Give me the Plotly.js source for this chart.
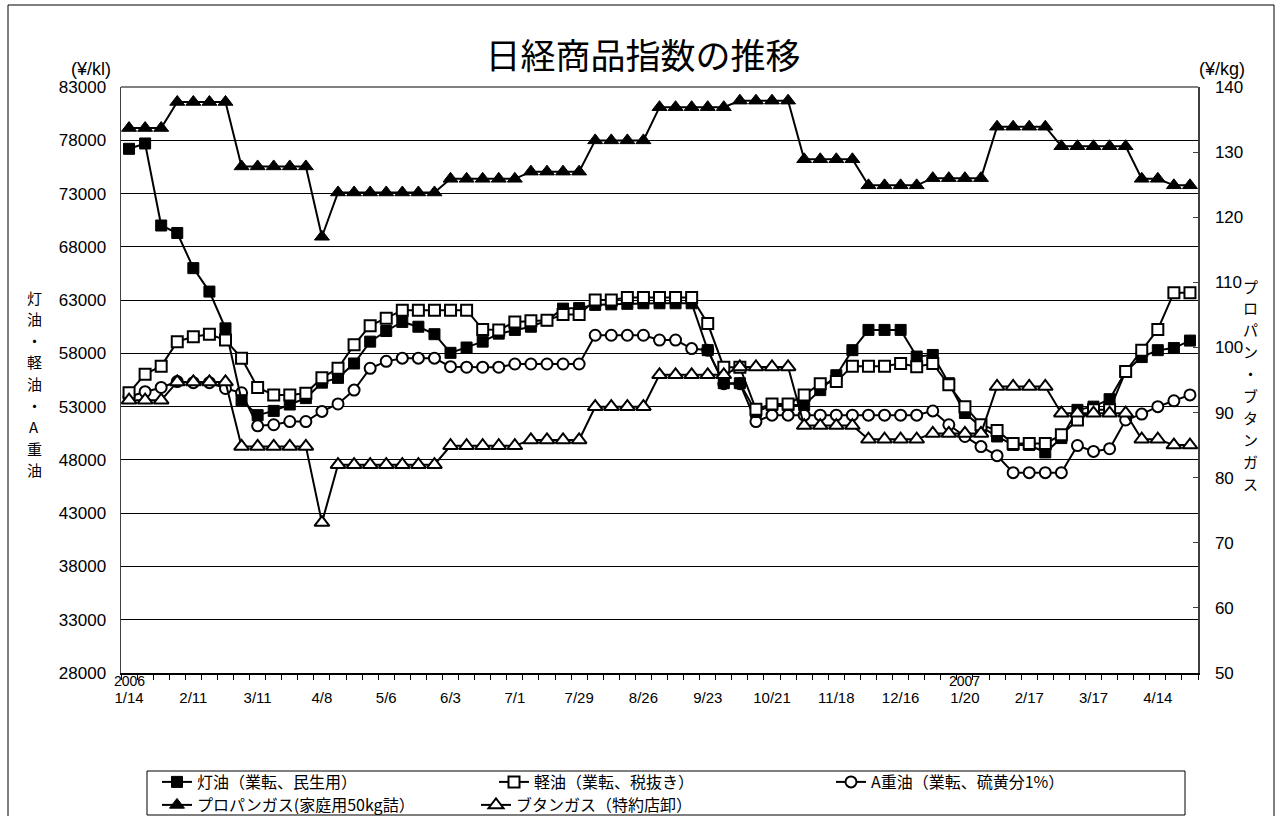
<!DOCTYPE html>
<html>
<head>
<meta charset="utf-8">
<script src="https://cdn.plot.ly/plotly-3.0.1.min.js"></script>
<style>
html,body{margin:0;padding:0;background:#fff;}
#chart{width:1282px;height:816px;}
</style>
</head>
<body>
<div id="chart"></div>
<script>
// weekly observation dates (2006/1/14 - 2007/4/28)
const dates = ['1/14','1/21','1/28','2/4','2/11','2/18','2/25','3/4','3/11','3/18','3/25','4/1','4/8','4/15','4/22','4/29',
  '5/6','5/13','5/20','5/27','6/3','6/10','6/17','6/24','7/1','7/8','7/15','7/22','7/29','8/5','8/12','8/19',
  '8/26','9/2','9/9','9/16','9/23','9/30','10/7','10/14','10/21','10/28','11/4','11/11','11/18','11/25','12/2','12/9',
  '12/16','12/23','1/6','1/13','1/20','1/27','2/3','2/10','2/17','2/24','3/3','3/10','3/17','3/24','3/31','4/7',
  '4/14','4/21','4/28'];

// 灯油（業転、民生用） ¥/kl
const kerosene = [77200,77700,70000,69300,66000,63800,60350,53600,52200,52600,53200,53800,55250,55700,57050,59100,
  60100,60950,60500,59800,58050,58550,59100,59850,60200,60500,61100,62200,62250,62550,62600,62650,
  62700,62700,62700,62700,58300,55200,55200,52500,53150,53150,53150,54550,55950,58300,60200,60200,
  60200,57700,57850,55200,52400,51100,50200,49400,49400,48700,50050,52700,53000,53700,56300,57650,
  58300,58500,59200];

// 軽油（業転、税抜き） ¥/kl
const diesel = [54300,56050,56800,59100,59550,59800,59250,57550,54800,54100,54100,54250,55700,56600,58800,60600,
  61300,62050,62050,62050,62050,62050,60250,60200,60950,61050,61100,61650,61650,63000,63000,63250,
  63250,63250,63250,63250,60800,56700,56700,52750,53250,53250,54100,55150,55350,56800,56800,56800,
  57050,56750,57050,55050,53000,51300,50750,49550,49550,49550,50350,51750,52700,52700,56300,58300,
  60250,63700,63700];

// A重油（業転、硫黄分1%） ¥/kl
const heavyA = [53950,54400,54800,55350,55250,55250,54700,54300,51200,51300,51600,51600,52550,53250,54550,56600,
  57250,57550,57550,57550,56750,56700,56700,56700,57000,57000,57000,57000,57000,59700,59700,59700,
  59700,59250,59250,58450,58300,55150,55150,51600,52200,52200,52200,52200,52200,52200,52200,52200,
  52200,52200,52600,51300,50200,49250,48400,46800,46800,46800,46800,49350,48800,49050,51750,52300,
  53000,53550,54100];

// プロパンガス(家庭用50kg詰) ¥/kg
const propane = [133.7,133.7,133.7,137.7,137.7,137.7,137.7,127.8,127.8,127.8,127.8,127.8,117.0,123.8,123.8,123.8,
  123.8,123.8,123.8,123.8,125.9,125.9,125.9,125.9,125.9,127.0,127.0,127.0,127.0,131.8,131.8,131.8,
  131.8,136.9,136.9,136.9,136.9,136.9,137.9,137.9,137.9,137.9,128.9,128.9,128.9,128.9,124.9,124.9,
  124.9,124.9,126.0,126.0,126.0,126.0,133.9,133.9,133.9,133.9,130.9,130.9,130.9,130.9,130.9,125.9,
  125.9,124.9,124.9];

// ブタンガス（特約店卸） ¥/kg
const butane = [91.9,91.9,91.9,94.7,94.7,94.7,94.7,84.8,84.8,84.8,84.8,84.8,73.1,82.0,82.0,82.0,
  82.0,82.0,82.0,82.0,84.9,84.9,84.9,84.9,84.9,85.8,85.8,85.8,85.8,90.9,90.9,90.9,
  90.9,95.8,95.8,95.8,95.8,95.8,97.0,97.0,97.0,97.0,88.0,88.0,88.0,88.0,85.9,85.9,
  85.9,85.9,86.8,86.8,86.8,86.8,94.0,94.0,94.0,94.0,89.9,89.9,89.9,89.9,89.9,85.9,
  85.9,85.0,85.0];

const seriesNames = ['灯油（業転、民生用）','軽油（業転、税抜き）','A重油（業転、硫黄分1%）','プロパンガス(家庭用50kg詰）','ブタンガス（特約店卸）'];
const leftTitle = '灯油・軽油・A重油';
const rightTitle = 'プロパン・ブタンガス';
const leftTicks = [28000,33000,38000,43000,48000,53000,58000,63000,68000,73000,78000,83000];
const rightTicks = [50,60,70,80,90,100,110,120,130,140];
const yearLabels = [{idx:0, text:'2006'},{idx:52, text:'2007'}];

const idx = dates.map((d,i)=>i);
const tickIdx = idx.filter(i=>i%4===0);
const tickTxt = tickIdx.map(i=>dates[i]);
const boundaries = [];
for (let i=0;i<=dates.length;i++) boundaries.push(i-0.5);

const NFONT = "'Liberation Sans Narrow','Liberation Sans','Noto Sans CJK JP',sans-serif";
const FONT = "'Liberation Sans','Noto Sans CJK JP',sans-serif";
const JFONT = "'Noto Sans CJK JP',sans-serif";

const lineStyle = {color:'#000', width:2};
const traces = [
  {x:idx, y:heavyA, name:seriesNames[2], legend:'legend', legendrank:3, type:'scatter', mode:'lines+markers', yaxis:'y',
   line:lineStyle, marker:{symbol:'circle', size:11, color:'#fff', line:{color:'#000', width:2}}},
  {x:idx, y:kerosene, name:seriesNames[0], legend:'legend', legendrank:1, type:'scatter', mode:'lines+markers', yaxis:'y',
   line:lineStyle, marker:{symbol:'square', size:11, color:'#000', line:{color:'#000', width:1}}},
  {x:idx, y:diesel, name:seriesNames[1], legend:'legend', legendrank:2, type:'scatter', mode:'lines+markers', yaxis:'y',
   line:lineStyle, marker:{symbol:'square', size:11, color:'#fff', line:{color:'#000', width:2}}},
  {x:idx, y:propane, name:seriesNames[3], legend:'legend2', legendrank:4, type:'scatter', mode:'lines+markers', yaxis:'y2',
   line:lineStyle, marker:{symbol:'triangle-up', size:13, color:'#000', line:{color:'#000', width:1}}},
  {x:idx, y:butane, name:seriesNames[4], legend:'legend2', legendrank:5, type:'scatter', mode:'lines+markers', yaxis:'y2',
   line:lineStyle, marker:{symbol:'triangle-up', size:13, color:'#fff', line:{color:'#000', width:2}}}
];

// plot area geometry (px)
const L=121, R=1198, T=87, B=673;
const W=1282, H=816;
const px2x = p => (p-L)/(R-L);
const py2y = p => (B-p)/(B-T);

const annotations = [
  {text:'(¥/kl)', xref:'paper', yref:'paper', x:px2x(91), y:py2y(69), xanchor:'center', yanchor:'middle', showarrow:false, font:{family:FONT, size:18, color:'#000'}},
  {text:'(¥/kg)', xref:'paper', yref:'paper', x:px2x(1222), y:py2y(69), xanchor:'center', yanchor:'middle', showarrow:false, font:{family:FONT, size:18, color:'#000'}},
];
// vertical (stacked) axis titles, one character per line
Array.from(leftTitle).forEach((ch,k)=>annotations.push({text:ch, xref:'paper', yref:'paper', x:px2x(34), y:py2y(297+21.6*k),
  xanchor:'center', yanchor:'middle', showarrow:false, font:{family:JFONT, size:15, color:'#000'}}));
Array.from(rightTitle).forEach((ch,k)=>annotations.push({text:ch, xref:'paper', yref:'paper', x:px2x(1250), y:py2y(286+21.9*k),
  xanchor:'center', yanchor:'middle', showarrow:false, font:{family:JFONT, size:15, color:'#000'}}));
yearLabels.forEach(o=>annotations.push({text:o.text, xref:'x', yref:'paper', x:o.idx, y:py2y(681), xanchor:'center', yanchor:'middle', showarrow:false,
  font:{family:NFONT, size:14, color:'#000'}}));

const shapes = [
  {type:'rect', xref:'paper', yref:'paper', x0:px2x(8), x1:px2x(1274), y0:py2y(830), y1:py2y(5), line:{color:'#000', width:1}, layer:'below'},
  {type:'rect', xref:'paper', yref:'paper', x0:px2x(147), x1:px2x(1185), y0:py2y(815), y1:py2y(771), line:{color:'#000', width:1}, layer:'below'},
  {type:'line', xref:'paper', yref:'paper', x0:0, x1:1, y0:1, y1:1, line:{color:'#808080', width:2}}
];

const legendCommon = {orientation:'h', xref:'container', yref:'container', xanchor:'left', yanchor:'middle',
  borderwidth:0, bgcolor:'rgba(0,0,0,0)', font:{family:JFONT, size:16, color:'#000'}, traceorder:'normal', itemwidth:30};

const layout = {
  width:W, height:H,
  margin:{l:L, r:W-R, t:T, b:H-B, pad:0},
  paper_bgcolor:'#fff', plot_bgcolor:'#fff',
  font:{family:FONT, color:'#000'},
  title:{text:'日経商品指数の推移', font:{family:JFONT, size:35, color:'#000'}, x:643/W, xref:'container', xanchor:'center', y:1-57/H, yref:'container', yanchor:'middle'},
  showlegend:true,
  legend:Object.assign({}, legendCommon, {x:157/W, y:1-782/H, entrywidth:292}),
  legend2:Object.assign({}, legendCommon, {x:157/W, y:1-805/H, entrywidth:274}),
  xaxis:{range:[-0.5, dates.length-0.5], tickmode:'array', tickvals:tickIdx, ticktext:tickTxt, ticks:'', showgrid:false,
         zeroline:false, showline:true, linecolor:'#000', linewidth:1.5, tickfont:{family:NFONT, size:15, color:'#000'},
         ticklabelstandoff:10, fixedrange:true,
         minor:{tickmode:'array', tickvals:boundaries, ticks:'outside', ticklen:5, tickcolor:'#000', tickwidth:1, showgrid:false}},
  yaxis:{range:[28000,83000], tickmode:'array', tickvals:leftTicks, tickformat:'d', showgrid:true, gridcolor:'#000', gridwidth:1,
         zeroline:false, showline:true, linecolor:'#404040', linewidth:1.5, ticks:'', tickfont:{family:FONT, size:17, color:'#000'},
         ticklabelstandoff:10, fixedrange:true},
  yaxis2:{range:[50,140], tickmode:'array', tickvals:rightTicks, overlaying:'y', side:'right', showgrid:false, zeroline:false,
          showline:true, linecolor:'#404040', linewidth:1.5, ticks:'inside', ticklen:5, tickcolor:'#404040',
          tickfont:{family:FONT, size:17, color:'#000'}, ticklabelstandoff:12, fixedrange:true},
  annotations:annotations,
  shapes:shapes
};

Plotly.newPlot('chart', traces, layout, {staticPlot:true, displayModeBar:false});
</script>
</body>
</html>
